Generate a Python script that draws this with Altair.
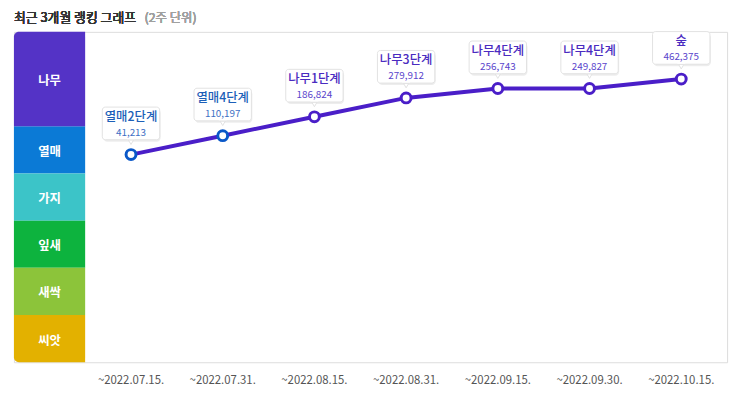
import altair as alt
import pandas as pd

# ---- data ----
dates = ["~2022.07.15.", "~2022.07.31.", "~2022.08.15.", "~2022.08.31.",
         "~2022.09.15.", "~2022.09.30.", "~2022.10.15."]
stages = ["열매2단계", "열매4단계", "나무1단계", "나무3단계", "나무4단계", "나무4단계", "숲"]
counts = [41213, 110197, 186824, 279912, 256743, 249827, 462375]
levels = [4.4, 4.8, 5.2, 5.6, 5.8, 5.8, 6.0]
groups = ["열매", "열매", "나무", "나무", "나무", "나무", "숲"]

band_names = ["나무", "열매", "가지", "잎새", "새싹", "씨앗"]
band_lo = [5, 4, 3, 2, 1, 0]
band_hi = [7, 5, 4, 3, 2, 1]
band_colors = ["#5433c6", "#0b7ad6", "#3cc4c8", "#0db33e", "#8cc43a", "#e3b100"]

W, H = 721, 334
XMIN, XMAX = -0.7766, 7.0
PXX = W / (XMAX - XMIN)
PXY = H / 7.0

pts = pd.DataFrame({"date": dates, "stage": stages, "count": counts,
                    "level": levels, "group": groups})
pts["xpos"] = [i + 0.5 for i in range(len(dates))]
pts["pcolor"] = ["#0a58c8" if g == "열매" else "#4a1ec8" for g in groups]
pts["tcolor"] = ["#1d5fb8" if g == "열매" else "#4a2bc0" for g in groups]
pts["ncolor"] = ["#3e6fc4" if g == "열매" else "#5a45cc" for g in groups]
# callout geometry (data units derived from the points)
pts["bx0"] = pts["xpos"] - 29 / PXX
pts["bx1"] = pts["xpos"] + 29 / PXX
pts["by0"] = pts["level"] + 15 / PXY
pts["by1"] = pts["level"] + 48 / PXY
pts["sx0"] = pts["xpos"] - 28 / PXX
pts["sx1"] = pts["xpos"] + 30 / PXX
pts["sy0"] = pts["level"] + 13 / PXY
pts["sy1"] = pts["level"] + 46 / PXY
pts["py"] = pts["level"] + 12.5 / PXY
pts["cx0"] = pts["xpos"] - 4 / PXX
pts["cx1"] = pts["xpos"] + 4 / PXX
pts["cy0"] = pts["level"] + 15.5 / PXY
pts["cy1"] = pts["level"] + 17 / PXY

bands = pd.DataFrame({"name": band_names, "lo": band_lo, "hi": band_hi,
                      "color": band_colors})
bands["x0"] = XMIN
bands["x1"] = 0.0
bands["xm"] = XMIN / 2
bands["ym"] = (bands["lo"] + bands["hi"]) / 2

xs = alt.Scale(domain=[XMIN, XMAX], nice=False, zero=False)
ys = alt.Scale(domain=[0, 7], nice=False, zero=False)

X = alt.X("xpos:Q", scale=xs, axis=None)
Yaxis = alt.Axis(values=[1, 2, 3, 4, 5, 6], grid=True, gridColor="#ececec",
                 domain=False, labels=False, ticks=False, title=None)

base = alt.Chart(pts)

grid = base.mark_point(opacity=0).encode(
    x=X, y=alt.Y("level:Q", scale=ys, axis=Yaxis))


def band_layer(df, **kw):
    return alt.Chart(df).mark_rect(**kw).encode(
        x=alt.X("x0:Q", scale=xs, axis=None), x2="x1:Q",
        y=alt.Y("lo:Q", scale=ys, axis=None), y2="hi:Q",
        fill=alt.Fill("color:N", scale=None))


band_mid = band_layer(bands.iloc[1:5])
band_top = band_layer(bands.iloc[0:1], cornerRadiusTopLeft=5)
band_bot = band_layer(bands.iloc[5:6], cornerRadiusBottomLeft=5)

band_text = alt.Chart(bands).mark_text(
    color="white", fontSize=12.5, fontWeight="bold", font="Noto Sans CJK KR", dy=2
).encode(x=alt.X("xm:Q", scale=xs, axis=None), y=alt.Y("ym:Q", scale=ys, axis=None),
         text="name:N")

Ylev = alt.Y("level:Q", scale=ys, axis=None)

line = base.mark_line(color="#4a1ec8", strokeWidth=4).encode(x=X, y=Ylev)

points = base.mark_point(filled=True, fill="white", size=100, strokeWidth=3, opacity=1).encode(
    x=X, y=Ylev, stroke=alt.Stroke("pcolor:N", scale=None))

shadow = base.mark_rect(fill="#000000", opacity=0.07, cornerRadius=4).encode(
    x=alt.X("sx0:Q", scale=xs, axis=None), x2="sx1:Q",
    y=alt.Y("sy0:Q", scale=ys, axis=None), y2="sy1:Q")
callout = base.mark_rect(fill="white", stroke="#e2e2e2", strokeWidth=1,
                         cornerRadius=3).encode(
    x=alt.X("bx0:Q", scale=xs, axis=None), x2="bx1:Q",
    y=alt.Y("by0:Q", scale=ys, axis=None), y2="by1:Q")
pointer = base.mark_point(shape="triangle-down", filled=True, fill="white",
                          stroke="#e2e2e2", strokeWidth=1, size=28, opacity=1).encode(
    x=X, y=alt.Y("py:Q", scale=ys, axis=None))
pointer_cover = base.mark_rect(fill="white").encode(
    x=alt.X("cx0:Q", scale=xs, axis=None), x2="cx1:Q",
    y=alt.Y("cy0:Q", scale=ys, axis=None), y2="cy1:Q")

name_text = base.mark_text(fontSize=12.5, fontWeight=500, font="Noto Sans CJK KR",
                           dy=-38, baseline="middle").encode(
    x=X, y=Ylev, text="stage:N", color=alt.Color("tcolor:N", scale=None))
num_text = base.mark_text(fontSize=10, font="Noto Sans CJK KR",
                          dy=-22, baseline="middle").encode(
    x=X, y=Ylev, text=alt.Text("count:Q", format=","),
    color=alt.Color("ncolor:N", scale=None))

date_text = base.mark_text(fontSize=11.5, font="Noto Sans CJK KR", color="#555555",
                           baseline="middle").encode(
    x=X, y=alt.value(H + 19), text="date:N")

title1 = base.mark_text(fontSize=13, fontWeight="normal", font="Noto Sans CJK KR",
                        color="#333333", align="left", baseline="middle").encode(
    x=alt.value(0), y=alt.value(-14), text=alt.value("최근 3개월 랭킹 그래프"))
title2 = base.mark_text(fontSize=12.5, fontWeight="normal", font="Noto Sans CJK KR",
                        color="#a0a0a0", align="left", baseline="middle").encode(
    x=alt.value(132), y=alt.value(-14), text=alt.value("(2주 단위)"))

chart = alt.layer(
    grid, band_mid, band_top, band_bot, band_text, line, points,
    shadow, pointer, callout, pointer_cover, name_text, num_text, date_text, title1, title2
).properties(
    width=W, height=H,
    autosize=alt.AutoSizeParams(type="none"),
    padding={"left": 6, "top": 22, "right": 8, "bottom": 30}
).configure_view(stroke="#dddddd")

chart.save("out.html", embed_options={"renderer": "svg", "actions": False})
